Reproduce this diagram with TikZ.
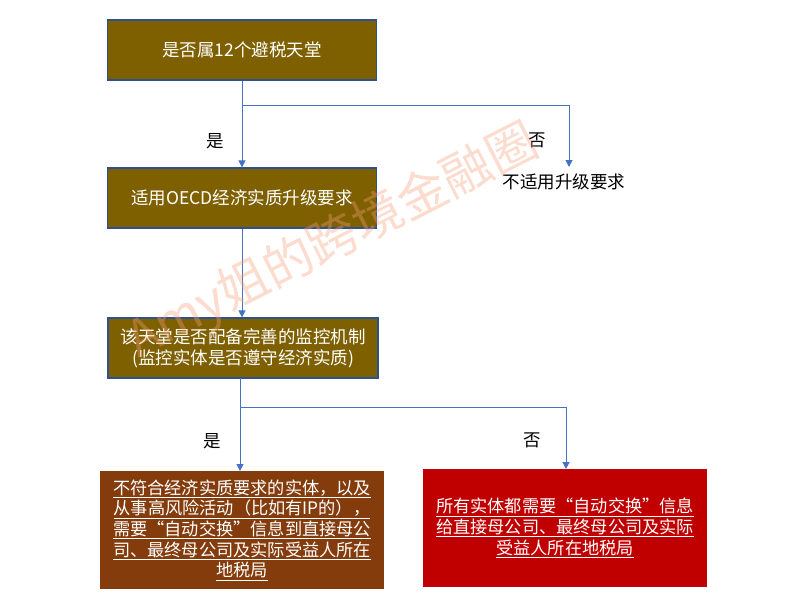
\documentclass[tikz,border=0pt]{standalone}
\usepackage{fontspec}
\setmainfont{Noto Sans CJK SC}
\usetikzlibrary{arrows.meta}
\definecolor{olivebox}{RGB}{127,96,0}
\definecolor{brownbox}{RGB}{132,60,12}
\definecolor{redbox}{RGB}{192,0,0}
\definecolor{bordblue}{RGB}{47,82,143}
\definecolor{linkblue}{RGB}{68,114,196}
\definecolor{wmark}{RGB}{244,160,120}
\tikzset{
  flowbox/.style={rectangle, draw=bordblue, line width=1.2pt, fill=olivebox, text=white,
    inner sep=0pt, minimum width=269pt, minimum height=60pt, align=center,
    font=\fontsize{17.5}{21}\selectfont},
  resbox/.style={rectangle, draw=none, text=white, inner sep=0pt, align=center,
    font=\fontsize{17.2}{20.7}\selectfont},
  link/.style={draw=linkblue, line width=1pt, -{Triangle[width=7pt,length=7pt]}},
  plain/.style={draw=linkblue, line width=1pt},
  lbl/.style={text=black, font=\fontsize{17.5}{21}\selectfont, inner sep=0pt},
}
\begin{document}
\begin{tikzpicture}[x=1pt,y=-1pt]
\fill[white] (0,0) rectangle (798,610);
\useasboundingbox (0,0) rectangle (798,610);

\node[flowbox] (b1) at (242,50) {是否属12个避税天堂};
\node[flowbox] (b2) at (242,198) {适用OECD经济实质升级要求};
\node[flowbox, minimum width=270pt] (b3) at (243,348) {该天堂是否配备完善的监控机制\\(监控实体是否遵守经济实质)};
\node[resbox, fill=brownbox, minimum width=284pt, minimum height=118pt] (b4) at (242,530)
 {\underline{不符合经济实质要求的实体，以及}\\\underline{从事高风险活动（比如有IP的），}\\\underline{需要“自动交换”信息到直接母公}\\\underline{司、最终母公司及实际受益人所在}\\\underline{地税局}};
\node[resbox, fill=redbox, minimum width=284pt, minimum height=118pt] (b5) at (565,528)
 {\underline{所有实体都需要“自动交换”信息}\\\underline{给直接母公司、最终母公司及实际}\\\underline{受益人所在地税局}};
\node[lbl, anchor=north] (no1) at (564,174) {不适用升级要求};

\coordinate (j1) at (242,105);
\coordinate (t1) at (569,167);
\coordinate (j2) at (240,407);
\coordinate (s3) at (240,378);
\coordinate (t4) at (240,471);
\coordinate (t5) at (566,469);

\draw[link] (b1.south) -- (b2.north);
\draw[link] (j1) -| (t1);
\draw[link] (b2.south) -- (b3.north -| b2.south);
\draw[plain] (s3) -- (j2);
\draw[link] (j2) -- (t4);
\draw[link] (j2) -| (t5);

\node[lbl] (y1) at (215,141) {是};
\node[lbl] (n1) at (537,140) {否};
\node[lbl] (y2) at (212,441) {是};
\node[lbl] (n2) at (532,440) {否};

\node[text=wmark, text opacity=0.36, rotate=27, inner sep=0pt,
  font=\fontsize{50}{50}\selectfont] (wm) at (333,242) {Amy姐的跨境金融圈};
\end{tikzpicture}
\end{document}
